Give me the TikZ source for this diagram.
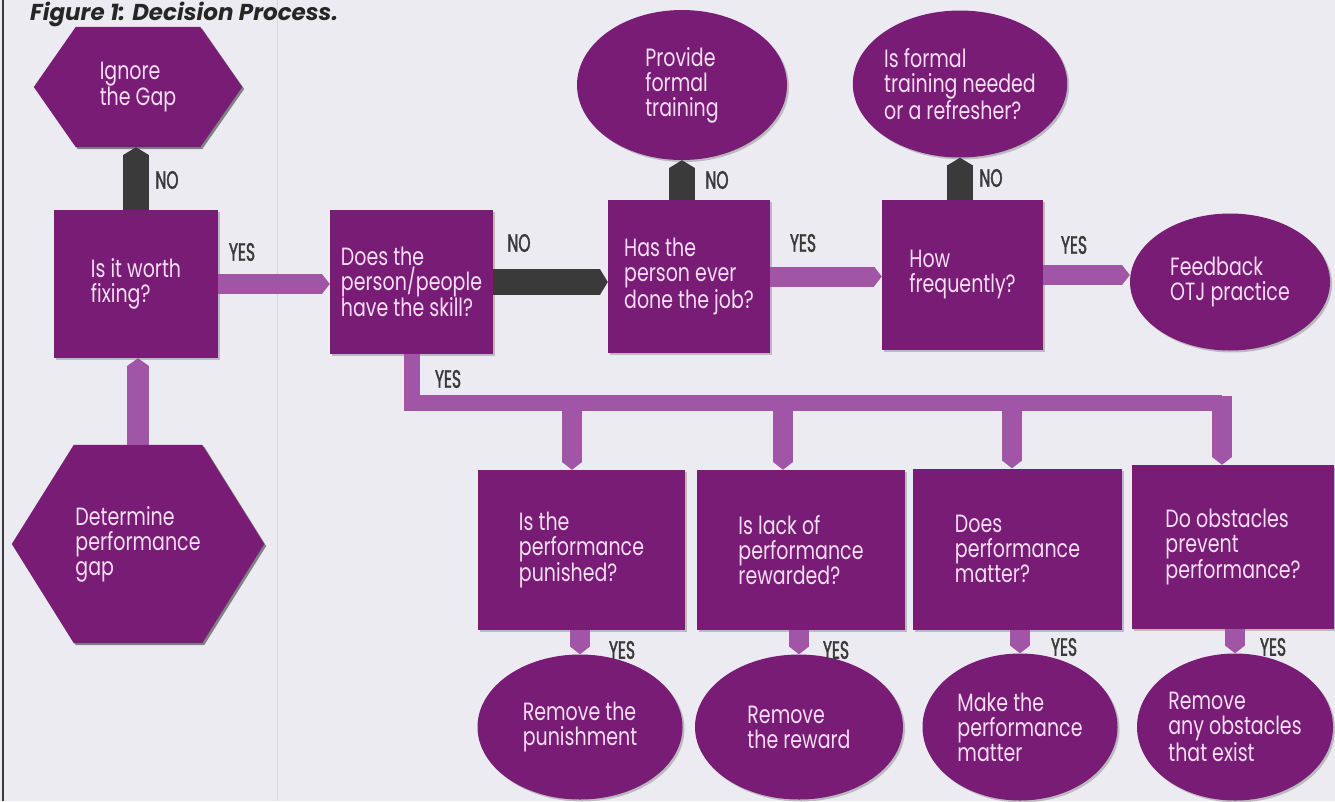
\documentclass[tikz,border=0pt]{standalone}
\usepackage{fontspec}
\setmainfont{Poppins}[FakeStretch=0.76]
\newfontfamily\lblfont{Poppins}[FakeStretch=0.62, FakeBold=1.6]
\newfontfamily\ttlfont{Poppins}
\usetikzlibrary{arrows.meta,shapes.geometric,shadows,backgrounds,calc}
\definecolor{bgc}{HTML}{ECEBF2}
\definecolor{boxc}{HTML}{781C76}
\definecolor{lpc}{HTML}{A055A6}
\definecolor{dkc}{HTML}{3A3A3A}
\definecolor{txtc}{HTML}{F5DDF2}
\newcommand\hexpath[2]{(#1.north west) -- (#1.north east) -- ($(#1.east)+(#2,0)$) -- (#1.south east) -- (#1.south west) -- ($(#1.west)+(-#2,0)$) -- cycle}
\tikzset{
  txtfont/.style={font=\fontsize{25}{25}\selectfont},
  shad/.style={drop shadow={shadow xshift=2pt,shadow yshift=-2pt,opacity=.45}},
  qbox/.style={rectangle, fill=boxc, text=txtc, align=left, txtfont, inner sep=0pt, shad},
  oval/.style={ellipse, fill=boxc, text=txtc, align=left, txtfont, inner sep=0pt, shad},
  hexnode/.style={rectangle, text=txtc, align=left, txtfont, inner sep=0pt},
  lbl/.style={text=dkc, font=\lblfont\fontsize{25}{25}\selectfont, inner sep=0pt},
  yesarr/.style={draw=lpc, line width=20pt, -{Triangle[length=8pt,width=0pt 1]}},
  noarr/.style={draw=dkc, line width=26pt, -{Triangle[length=8pt,width=0pt 1]}},
  busline/.style={draw=lpc, line width=16pt},
}
\begin{document}
\begin{tikzpicture}[x=1pt,y=-1pt]
\useasboundingbox (0,0) rectangle (1335,801);
\clip (0,0) rectangle (1335,801);
\begin{scope}[on background layer]
  \fill[bgc] (0,0) rectangle (1335,801);
  \draw[color=bgc!92!black, line width=1pt] (277,0) -- (277,801);
  \draw[color=dkc, line width=2pt] (3,0) -- (3,801);
\end{scope}

% title
\node[anchor=base west, text=black!85, font=\ttlfont\bfseries\itshape\fontsize{23}{23}\selectfont, inner sep=0pt] (title) at (30,20) {Figure 1: Decision Process.};

% top row
\node[hexnode, minimum width=124, minimum height=120] (ignore) at (138,87) {Ignore\\the Gap};
\node[qbox, minimum width=164, minimum height=148] (worth) at (136,284) {Is it worth\\fixing?};
\node[qbox, minimum width=163, minimum height=144] (skill) at (411.5,282) {Does the\\person/people\\have the skill?};
\node[qbox, minimum width=162, minimum height=153] (job) at (689,276.5) {Has the\\person ever\\done the job?};
\node[qbox, minimum width=161, minimum height=150] (how) at (962.5,275) {How\\frequently?};
\node[oval, minimum width=210, minimum height=150] (train) at (682,85) {Provide\\formal\\training};
\node[oval, minimum width=206, minimum height=147] (refr) at (960,84) {Is formal\\training needed\\or a refresher?};
\node[oval, minimum width=200, minimum height=137] (fb) at (1230,282) {Feedback\\OTJ practice};
\node[hexnode, minimum width=128, minimum height=198] (det) at (138,544) {Determine\\performance\\gap};

% bottom row
\node[qbox, minimum width=207, minimum height=160] (b1) at (581.5,550) {Is the\\performance\\punished?};
\node[qbox, minimum width=208, minimum height=160] (b2) at (801,550) {Is lack of\\performance\\rewarded?};
\node[qbox, minimum width=209, minimum height=161] (b3) at (1017.5,549) {Does\\performance\\matter?};
\node[qbox, minimum width=202, minimum height=164] (b4) at (1233,547) {Do obstacles\\prevent\\performance?};
\node[oval, minimum width=205, minimum height=145] (e1) at (580,727) {Remove the\\punishment};
\node[oval, minimum width=208, minimum height=145] (e2) at (799,727) {Remove\\the reward};
\node[oval, minimum width=195, minimum height=147] (e3) at (1020,727) {Make the\\performance\\matter};
\node[oval, minimum width=196, minimum height=147] (e4) at (1235,727) {Remove\\any obstacles\\that exist};

% hexagon fills
\begin{scope}[on background layer]
  \fill[black, opacity=.45, transform canvas={shift={(2pt,-2pt)}}] \hexpath{ignore}{42};
  \fill[boxc] \hexpath{ignore}{42};
  \fill[black, opacity=.45, transform canvas={shift={(2pt,-2pt)}}] \hexpath{det}{62};
  \fill[boxc] \hexpath{det}{62};
\end{scope}

% connectors (top)
\draw[noarr] (worth.north) -- (worth.north |- ignore.south);
\node[lbl] (l1) at (167,180) {NO};
\draw[yesarr, line width=22pt] (det.north) -- (det.north |- worth.south);
\draw[yesarr] (worth.east) -- (worth.east -| skill.west);
\node[lbl] (l2) at (242,252) {YES};
\draw[noarr] (skill.east) -- (skill.east -| job.west);
\node[lbl] (l3) at (519,243) {NO};
\draw[noarr] (job.north -| train.south) -- (train.south);
\node[lbl] (l4) at (717,180) {NO};
\draw[yesarr] (job.east) -- (job.east -| how.west);
\node[lbl] (l5) at (803,243) {YES};
\draw[noarr] (how.north -| refr.south) -- (refr.south);
\node[lbl] (l6) at (991,178) {NO};
\draw[yesarr] (how.east) -- (how.east -| fb.west);
\node[lbl] (l7) at (1074,245) {YES};

% bus
\coordinate (bl) at (412,403);
\coordinate (br) at (1222,403);
\coordinate (d1) at (572,400);
\coordinate (d2) at (783,400);
\coordinate (d3) at (1012,400);
\coordinate (d4) at (1222,396);
\draw[busline, line join=miter] (skill.south -| bl) -- (bl) -- (br);
\node[lbl] (l8) at (448,379) {YES};
\draw[yesarr] (d1) -- (d1 |- b1.north);
\draw[yesarr] (d2) -- (d2 |- b2.north);
\draw[yesarr] (d3) -- (d3 |- b3.north);
\draw[yesarr] (d4) -- (d4 |- b4.north);

% bottom connectors
\draw[yesarr] (e1.north |- b1.south) -- (e1.north);
\node[lbl] (l9) at (622,650) {YES};
\draw[yesarr] (e2.north |- b2.south) -- (e2.north);
\node[lbl] (l10) at (836,650) {YES};
\draw[yesarr] (e3.north |- b3.south) -- (e3.north);
\node[lbl] (l11) at (1064,647) {YES};
\draw[yesarr] (e4.north |- b4.south) -- (e4.north);
\node[lbl] (l12) at (1273,647) {YES};
\end{tikzpicture}
\end{document}
